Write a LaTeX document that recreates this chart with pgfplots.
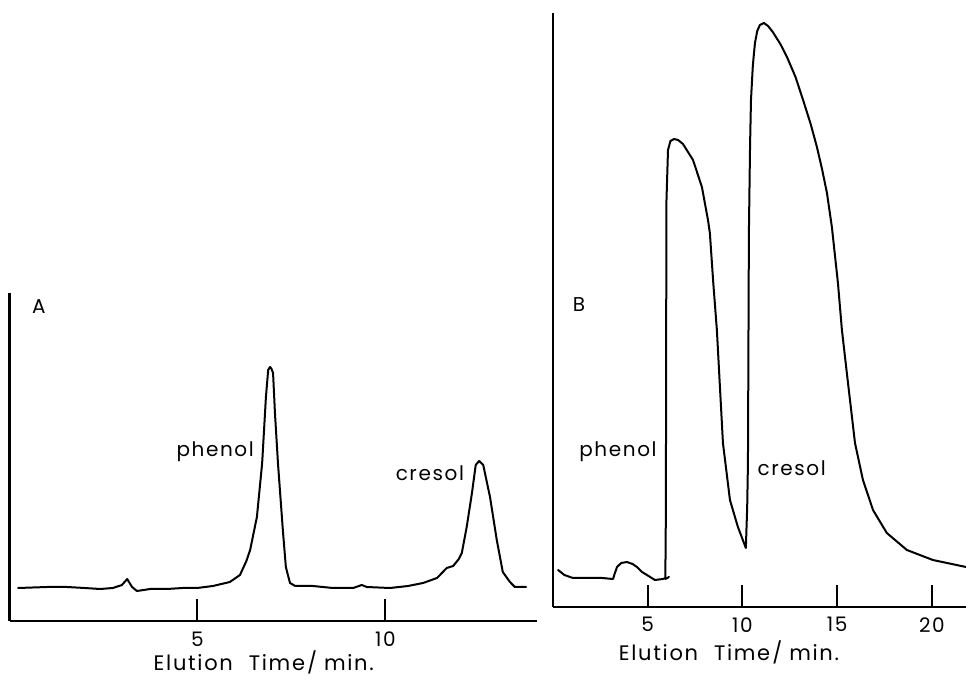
\documentclass[border=0pt]{standalone}
\usepackage{fontspec}
\setmainfont{Poppins}[LetterSpace=8]
\usepackage{pgfplots}
\pgfplotsset{compat=1.18}
\newcommand{\lf}{\fontsize{20bp}{22bp}\selectfont}
\begin{document}
\begin{tikzpicture}
\useasboundingbox (0bp,0bp) rectangle (966bp,676bp);
\pgfplotsset{
  chrom/.style={
    scale only axis,
    axis lines*=left,
    axis line style={line width=2.4bp,-},
    xmin=0, ymin=0,
    ytick=\empty,
    xtick pos=bottom,
    tick align=inside,
    major tick length=22bp,
    every tick/.style={line width=2bp,black},
    /pgf/number format/assume math mode=true,
    tick label style={font=\lf},
    xticklabel style={yshift=-7bp},
    label style={font=\fontsize{21bp}{23bp}\selectfont},
    clip=false,
  },
  crv/.style={black,mark=none,line width=2bp,line join=round,line cap=round},
}
% ---------- Panel A ----------
\begin{axis}[chrom,
  at={(9.5bp,55bp)}, anchor=south west,
  width=527.5bp, height=328bp,
  xmax=14.03, ymax=328,
  xtick={5,10},
  xlabel={Elution\hspace{16bp}Time\hspace{2bp}/\hspace{7bp}min.},
  xlabel style={at={(axis description cs:0.482,0)},anchor=center,yshift=-41bp},
]
\addplot[crv] coordinates {
(0.23,33) (1.0,34) (1.53,34) (2.0,33) (2.41,32) (2.75,33) (2.99,36) (3.13,42)
(3.26,34) (3.39,30) (3.74,32) (4.19,32) (4.6,33) (4.99,33) (5.41,35) (5.86,39)
(6.13,46) (6.30,60) (6.40,71) (6.58,104) (6.72,158) (6.82,224) (6.88,251)
(6.93,254) (6.97,252) (7.01,248) (7.06,208) (7.14,158) (7.27,91) (7.35,54)
(7.46,38) (7.6,35) (8.07,35) (8.6,33) (9.14,33) (9.37,36) (9.5,34) (10.12,33)
(10.6,35) (11.0,38) (11.37,43) (11.63,53) (11.8,55) (11.95,62) (12.03,68)
(12.16,94) (12.3,128) (12.4,156) (12.49,160) (12.6,156) (12.78,124) (12.96,81)
(13.12,49) (13.31,39) (13.44,34) (13.74,34)
};
\node[font=\lf] at (axis cs:0.78,314) {A};
\node[font=\lf] at (axis cs:5.47,169) {phenol};
\node[font=\lf] at (axis cs:11.18,148) {cresol};
\end{axis}
% ---------- Panel B ----------
\begin{axis}[chrom,
  at={(553bp,69bp)}, anchor=south west,
  width=413bp, height=594bp,
  xmax=21.8, ymax=594,
  xtick={5,10,15,20},
  xlabel={Elution\hspace{16bp}Time\hspace{2bp}/\hspace{7bp}min.},
  xlabel style={at={(axis description cs:0.426,0)},anchor=center,yshift=-45bp},
]
\addplot[crv] coordinates {
(0.27,37) (0.6,32) (1.05,29) (1.95,29) (2.6,29) (3.17,28) (3.25,33) (3.38,40)
(3.6,44) (3.9,45) (4.2,43) (4.43,40) (4.7,35) (4.96,32) (5.38,27) (5.8,28)
(5.93,29) (5.96,100) (5.97,250) (5.99,407) (6.07,457) (6.2,466) (6.39,468)
(6.6,467) (6.86,463) (7.39,447) (7.86,420) (8.18,387) (8.28,374) (8.46,324)
(8.65,277) (8.97,164) (9.34,107) (9.76,80) (10.18,59) (10.25,100) (10.29,144)
(10.34,374) (10.40,460) (10.45,507) (10.55,542) (10.66,564) (10.78,576) (10.92,582) (11.13,584) (11.35,581) (11.6,575)
(12.0,563) (12.35,550) (12.8,530) (13.2,507) (13.6,483) (13.93,460) (14.2,438) (14.46,414) (14.72,380) (15.04,324)
(15.25,277) (15.51,234) (15.94,164) (16.36,127) (16.89,97) (17.62,74)
(18.68,57) (20.05,47) (21.8,40)
};
\addplot[crv] coordinates {(5.93,28) (6.12,30)};
\node[font=\lf] at (axis cs:1.37,302) {B};
\node[font=\lf] at (axis cs:3.43,155) {phenol};
\node[font=\lf] at (axis cs:12.6,139) {cresol};
\end{axis}
\end{tikzpicture}
\end{document}
